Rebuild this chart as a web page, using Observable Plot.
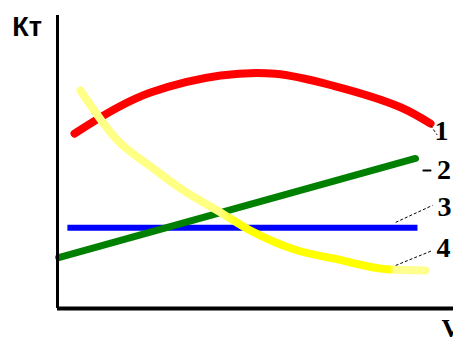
<!DOCTYPE html>
<html>
<head>
<meta charset="utf-8">
<script src="https://cdn.jsdelivr.net/npm/d3@7"></script>
<script src="https://cdn.jsdelivr.net/npm/@observablehq/plot@0.6"></script>
<style>
  html, body { margin: 0; padding: 0; background: #fff; overflow: hidden; }
</style>
</head>
<body>
<div id="chart"></div>
<script>
// Curve 1 (red): Kt vs V
const curve1V = [4.3, 15.2, 23.5, 41.2, 55, 69.7, 86.6, 94.2];
const curve1K = [59.7, 68.6, 73.7, 79.5, 80.1, 76.0, 68.7, 63.1];
// Curve 2 (green)
const curve2V = [0.3, 90.4];
const curve2K = [17.4, 51.2];
// Curve 3 (blue)
const curve3V = [2.5, 90.9];
const curve3K = [27.6, 27.6];
// Curve 4 (yellow)
const curve4V = [5.8, 15.2, 23.5, 31.8, 40.4, 48.7, 60.6, 69.7, 84.1, 92.9];
const curve4K = [74.4, 57.3, 48.5, 40.3, 33.4, 26.6, 19.8, 17.1, 13.3, 13.0];
// Curve labels
const labelText = ["1", "2", "3", "4"];
const labelV = [97.0, 97.6, 97.7, 97.5];
const labelK = [60.4, 47.1, 34.5, 20.8];
// Leader lines
const leaderV1 = [94.2, 85.4, 85.4];
const leaderK1 = [62.5, 29.4, 14.7];
const leaderV2 = [95.9, 94.7, 94.7];
const leaderK2 = [59.2, 35.2, 19.8];
// Dash before "2"
const dashV = [92.4, 94.2];
const dashK = [47.1, 47.1];

const zip = (xs, ys) => xs.map((x, i) => ({v: x, k: ys[i]}));
const c1 = zip(curve1V, curve1K);
const c2 = zip(curve2V, curve2K);
const c3 = zip(curve3V, curve3K);
const c4 = zip(curve4V, curve4K);
const labels = labelText.map((t, i) => ({t, v: labelV[i], k: labelK[i]}));
const leaders = leaderV1.map((v, i) => ({v1: v, k1: leaderK1[i], v2: leaderV2[i], k2: leaderK2[i]}));

const plot = Plot.plot({
  width: 453,
  height: 340,
  marginLeft: 57,
  marginRight: 0,
  marginTop: 15,
  marginBottom: 32,
  x: {domain: [0, 100], axis: null},
  y: {domain: [0, 100], axis: null},
  style: {background: "#fff", overflow: "visible"},
  marks: [
    Plot.lineY(c3, {x: "v", y: "k", stroke: "#0000ff", strokeWidth: 6, strokeLinecap: "butt"}),
    Plot.lineY(c2, {x: "v", y: "k", stroke: "#008000", strokeWidth: 7, strokeLinecap: "round"}),
    Plot.lineY(c1, {x: "v", y: "k", stroke: "#ff0000", strokeWidth: 8, curve: "catmull-rom", strokeLinecap: "round"}),
    Plot.lineY(c4, {x: "v", y: "k", stroke: "url(#yellowGrad)", strokeWidth: 8, curve: "monotone-x", strokeLinecap: "round"}),
    Plot.link(leaders, {x1: "v1", y1: "k1", x2: "v2", y2: "k2", stroke: "#000", strokeWidth: 1, strokeDasharray: "3,2"}),
    Plot.lineY(zip(dashV, dashK), {x: "v", y: "k", stroke: "#000", strokeWidth: 2}),
    Plot.text(labels, {x: "v", y: "k", text: "t", fontSize: 28, fontWeight: "bold", fontFamily: "Liberation Serif", fill: "#000"}),
    Plot.ruleX([0], {stroke: "#000", strokeWidth: 3}),
    Plot.ruleY([0], {x1: 0, x2: 101, stroke: "#000", strokeWidth: 4}),
    Plot.text(["Кт"], {x: -11.4, y: 95.9, text: d => d, textAnchor: "start", fontSize: 27, fontWeight: "bold", fontFamily: "Liberation Sans", fill: "#000"}),
    Plot.text(["V"], {x: 97.0, y: -7.0, text: d => d, textAnchor: "start", fontSize: 26, fontWeight: "bold", fontFamily: "Liberation Serif", fill: "#000"})
  ]
});
// gradient for the yellow curve (pale at both ends)
const defs = d3.select(plot).insert("defs", ":first-child");
const g = defs.append("linearGradient")
  .attr("id", "yellowGrad")
  .attr("gradientUnits", "userSpaceOnUse")
  .attr("x1", 57).attr("x2", 453).attr("y1", 0).attr("y2", 0);
[[0, "#ffff88"], [0.41, "#ffff80"], [0.46, "#ffff00"], [0.84, "#ffff00"], [0.85, "#ffff90"], [1, "#ffff90"]]
  .forEach(([o, c]) => g.append("stop").attr("offset", o).attr("stop-color", c));
document.getElementById("chart").appendChild(plot);
</script>
</body>
</html>
